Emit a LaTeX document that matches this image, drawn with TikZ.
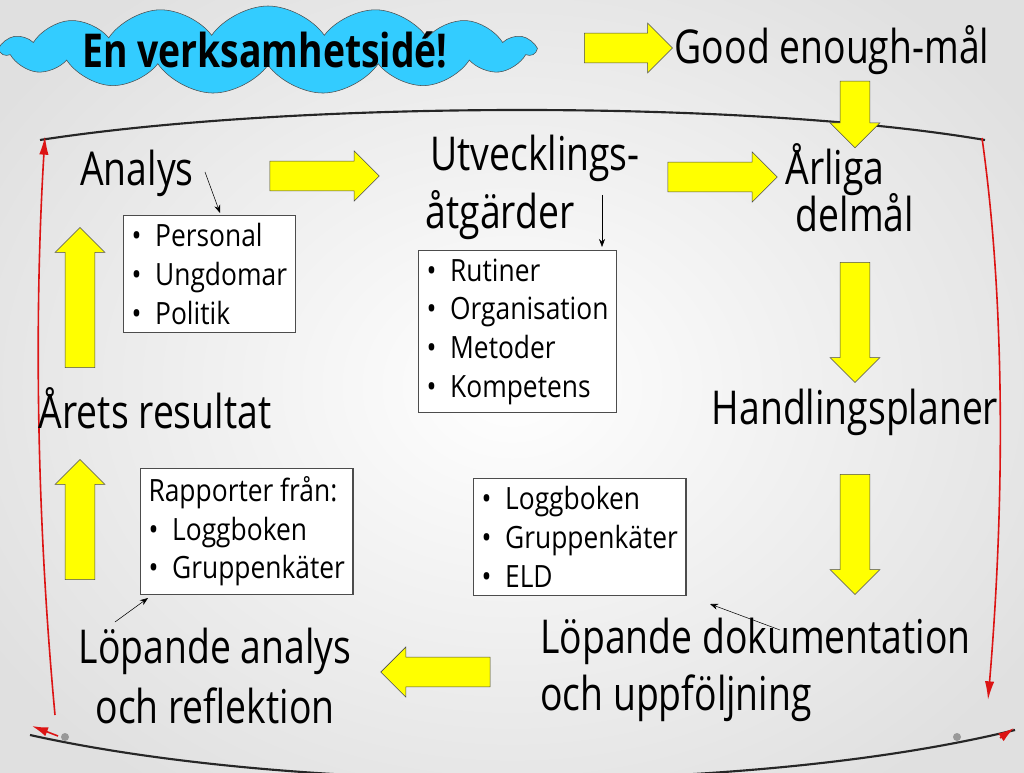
\documentclass[tikz,border=0pt]{standalone}
\usepackage{fontspec}
\setmainfont{Open Sans}[FakeStretch=0.8]
\newfontfamily\boxfont{Open Sans}[FakeStretch=0.86]
\usetikzlibrary{shapes.symbols,shapes.arrows,arrows.meta}
\definecolor{ylw}{RGB}{255,255,0}
\definecolor{cld}{RGB}{51,204,255}
\definecolor{frred}{RGB}{220,20,20}
\tikzset{
  yarr/.style={single arrow, draw=black!70, fill=ylw, inner sep=11pt, single arrow head extend=7.5pt, minimum width=37pt},
  big/.style={font=\fontsize{35}{43}\selectfont, inner sep=0pt},
  lbox/.style={draw=black!70, fill=white, thick, align=left, font=\boxfont\fontsize{23}{29}\selectfont, inner sep=6pt, anchor=north west},
  pointer/.style={-{Stealth[length=6pt]}, thin}
}
\newcommand{\bt}{\textbullet\ \ }
\begin{document}
\begin{tikzpicture}[x=0.75pt,y=-0.75pt]
\useasboundingbox (0,0) rectangle (1024,773);
\shade[inner color=white, outer color=black!12] (-100,-100) rectangle (1124,873);
% frame
\draw[line width=1.6pt,black!85] (40,140) .. controls (300,100) and (750,100) .. (985,140);
\draw[line width=1.6pt,black!85] (30,735) .. controls (300,795) and (750,795) .. (1015,730);
\draw[frred,line width=1.2pt,-{Latex[length=14pt,width=7pt]}] (55,715) .. controls (35,500) and (35,300) .. (45,136);
\draw[frred,line width=1.2pt,-{Latex[length=14pt,width=7pt]}] (982,138) .. controls (1005,300) and (1005,500) .. (988,700);
\draw[frred,line width=1.2pt,-{Latex[length=12pt,width=7pt]}] (1000,738) -- (1014,728);
\draw[frred,line width=1.2pt,-{Latex[length=12pt,width=7pt]}] (58,736) -- (32,726);
\fill[black!40] (65,737) circle (4);
\fill[black!40] (957,737) circle (4);
% cloud
\node[cloud, cloud puffs=15, cloud puff arc=110, cloud ignores aspect, draw=black!70, fill=cld, minimum width=400pt, minimum height=66pt, inner sep=0pt] (cloudshape) at (268,50) {};
\node[font=\bfseries\fontsize{35}{40}\selectfont, inner sep=0pt] (idea) at (265,50) {En verksamhetsidé!};
\node[yarr, minimum height=66pt] (a0) at (621,48) {};
\node[big] (good) at (832,50) {Good enough-mål};
\node[yarr, minimum height=50pt, rotate=-90] (a1) at (855,107) {};
% top row
\node[big] (analys) at (137,173) {Analys};
\node[yarr, minimum height=82pt] (a2) at (317,176) {};
\node[big] (utv1) at (535,158) {Utvecklings-};
\node[big] (utv2) at (500,215) {åtgärder};
\node[yarr, minimum height=82pt] (a3) at (715,177) {};
\node[big] (arl1) at (835,170) {Årliga};
\node[big] (arl2) at (855,213) {delmål};
\node[lbox] (b1) at (123,215) {\bt Personal\\\bt Ungdomar\\\bt Politik};
\node[lbox] (b2) at (418,250) {\bt Rutiner\\\bt Organisation\\\bt Metoder\\\bt Kompetens};
\coordinate (p1) at (205,172);
\draw[pointer] (p1) -- (220,213);
\coordinate (p2) at (602,195);
\draw[pointer] (p2) -- (602,247);
% right column
\node[yarr, minimum height=90pt, rotate=-90] (a4) at (855,315) {};
\node[big] (handl) at (855,412) {Handlingsplaner};
\node[yarr, minimum height=90pt, rotate=-90] (a5) at (855,527) {};
% bottom
\node[lbox] (b3) at (473,478) {\bt Loggboken\\\bt Gruppenkäter\\\bt ELD};
\node[big, align=left, anchor=west] (dok) at (540,670) {Löpande dokumentation\\och uppföljning};
\coordinate (p3) at (780,630);
\draw[pointer] (p3) -- (710,604);
\node[yarr, minimum height=82pt, rotate=180] (a6) at (443,672) {};
\node[big, align=center, font=\fontsize{35}{45}\selectfont] (lop) at (215,676) {Löpande analys\\och reflektion};
\node[lbox] (b4) at (140,468) {Rapporter från:\\\bt Loggboken\\\bt Gruppenkäter};
\coordinate (p4) at (115,622);
\draw[pointer] (p4) -- (148,598);
% left column
\node[yarr, minimum height=90pt, rotate=90] (a7) at (80,527) {};
\node[big] (aret) at (155,408) {Årets resultat};
\node[yarr, minimum height=105pt, rotate=90] (a8) at (80,305) {};
\end{tikzpicture}
\end{document}
